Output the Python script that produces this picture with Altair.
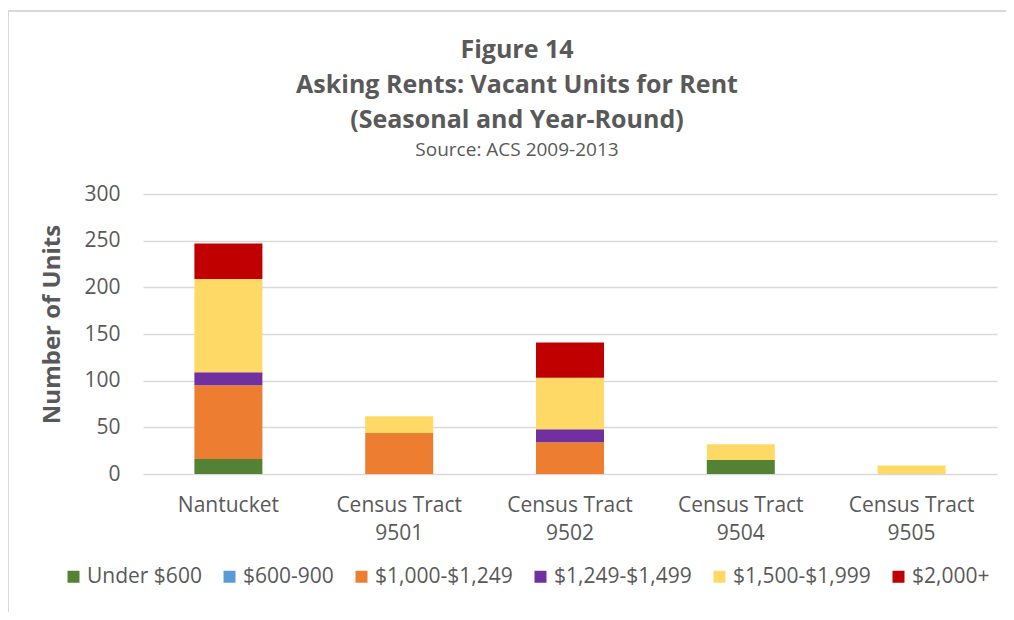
import altair as alt
import pandas as pd

areas = ["Nantucket", "Census Tract\n9501", "Census Tract\n9502", "Census Tract\n9504", "Census Tract\n9505"]
ranges = ["Under $600", "$600-900", "$1,000-$1,249", "$1,249-$1,499", "$1,500-$1,999", "$2,000+"]
colors = ["#548235", "#5b9bd5", "#ed7d31", "#7030a0", "#ffd966", "#c00000"]

under600 = [16, 0, 0, 15, 0]
r600_900 = [0, 0, 0, 0, 0]
r1000_1249 = [79, 44, 34, 0, 0]
r1249_1499 = [14, 0, 14, 0, 0]
r1500_1999 = [100, 18, 55, 17, 9]
r2000plus = [38, 0, 38, 0, 0]

series = [under600, r600_900, r1000_1249, r1249_1499, r1500_1999, r2000plus]
rows = []
for si, (name, vals) in enumerate(zip(ranges, series)):
    for a, v in zip(areas, vals):
        rows.append({"area": a, "range": name, "units": v, "order": si})
df = pd.DataFrame(rows)

FONT = "Open Sans"
GRAY = "#595959"
LBL = 21

bars = alt.Chart(df).mark_bar(size=68).encode(
    x=alt.X("area:N", sort=areas, title=None,
            scale=alt.Scale(paddingInner=0.6, paddingOuter=0.3),
            axis=alt.Axis(labelExpr="split(datum.label, '\\n')", labelAngle=0,
                          labelFontSize=LBL, labelColor=GRAY, labelFont=FONT,
                          labelPadding=20, labelLineHeight=28, labelBaseline="top",
                          ticks=False, domain=False)),
    y=alt.Y("units:Q", title="Number of Units",
            scale=alt.Scale(domain=[0, 300]),
            axis=alt.Axis(values=[0, 50, 100, 150, 200, 250, 300], ticks=False, domain=False,
                          labelFontSize=LBL, labelColor=GRAY, labelFont=FONT, labelPadding=23,
                          gridColor="#d9d9d9", gridWidth=1.5,
                          titleFontSize=24, titleFont=FONT, titleFontWeight="bold",
                          titleColor=GRAY, titlePadding=19, titleY=130)),
    color=alt.Color("range:N", sort=ranges,
                    scale=alt.Scale(domain=ranges, range=colors),
                    legend=alt.Legend(orient="none", legendX=-80, legendY=372,
                                      direction="horizontal", title=None,
                                      symbolType="square", symbolSize=144,
                                      symbolStrokeWidth=0,
                                      labelFontSize=LBL, labelColor=GRAY, labelFont=FONT,
                                      labelOffset=3, columnPadding=17)),
    order=alt.Order("order:Q"),
)

frame_df = pd.DataFrame({"k": [0]})
frame = alt.Chart(frame_df).mark_rect(fill=None, stroke="#d9d9d9", strokeWidth=2).encode(
    x=alt.value(-135), x2=alt.value(1100), y=alt.value(-183), y2=alt.value(500)
)

chart = alt.layer(frame, bars).properties(
    width=854, height=280,
    autosize=alt.AutoSizeParams(type="none"),
    padding={"left": 135, "top": 186, "right": 9, "bottom": 138},
    title=alt.TitleParams(
        text=["Figure 14", "Asking Rents: Vacant Units for Rent", "(Seasonal and Year-Round)"],
        subtitle="Source: ACS 2009-2013",
        font=FONT, fontSize=25, fontWeight="bold", color=GRAY, lineHeight=35,
        subtitleFont=FONT, subtitleFontSize=19, subtitleColor=GRAY, subtitlePadding=8,
        anchor="middle", offset=-150, frame="group", dx=-53,
    ),
).configure_view(stroke=None)

chart.save("out.html", embed_options={"renderer": "svg", "actions": False})
